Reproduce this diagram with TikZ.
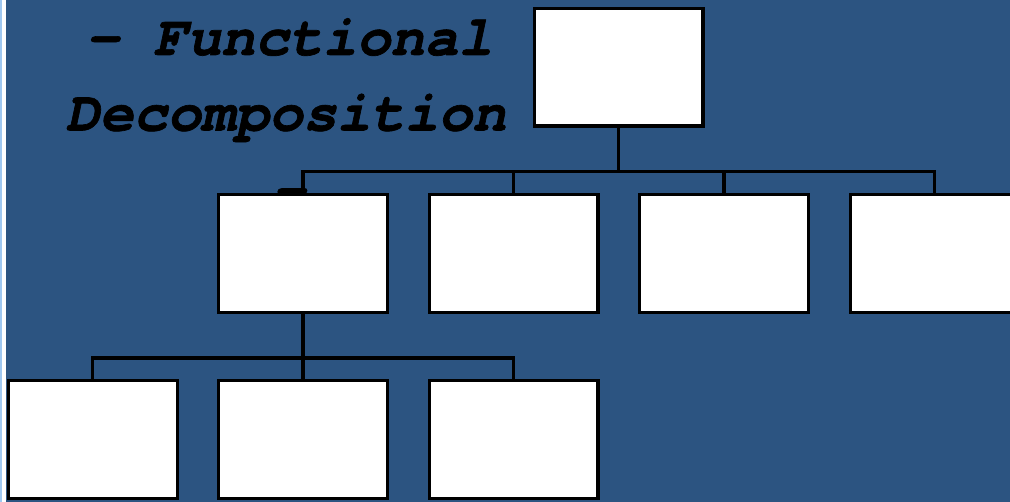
\documentclass[tikz,border=0pt]{standalone}
\usepackage{fontspec}
\newfontfamily\courfont{texgyrecursor}[Extension=.otf, UprightFont=*-regular, BoldFont=*-bold, ItalicFont=*-italic, BoldItalicFont=*-bolditalic, BoldItalicFeatures={FakeBold=1.2}]
\definecolor{bgblue}{RGB}{44,84,129}
\definecolor{edgeblue}{RGB}{160,200,240}
\tikzset{
  box/.style={draw=black, fill=white, line width=3.3pt, minimum width=168.7pt, minimum height=117.7pt, inner sep=0pt, outer sep=0pt},
  link/.style={draw=black, line width=3.3pt},
  title/.style={anchor=base, inner sep=0pt, font=\courfont\bfseries\itshape\fontsize{56.5}{76}\selectfont, text=black}
}
\begin{document}
\begin{tikzpicture}[x=1pt, y=-1pt]
\useasboundingbox (0,0) rectangle (1010,502);
\clip (0,0) rectangle (1010,502);
\fill[bgblue] (0,0) rectangle (1010,502);
\fill[white] (0,0) rectangle (6,502);
\fill[edgeblue] (0,0) rectangle (1.5,502);
% title text
\node[title] (t1) at (289,55) {- Functional};
\node[title] (t2) at (286,130.5) {Decomposition};
\node[title] (t3) at (289,207) {-};
% boxes
\node[box] (top) at (618.5,67.2) {};
\node[box] (b1) at (302.9,253.4) {};
\node[box] (b2) at (513.6,253.4) {};
\node[box] (b3) at (724.0,253.4) {};
\node[box] (b4) at (934.5,253.4) {};
\node[box] (c1) at (92.8,439.5) {};
\node[box] (c2) at (302.9,439.5) {};
\node[box] (c3) at (513.6,439.5) {};
% junctions
\coordinate (j1) at (618.5,171.7);
\coordinate (j2) at (302.9,358);
% connectors
\draw[link] (top.south) -- (j1);
\draw[link] (b1.north) |- (j1);
\draw[link] (b4.north) |- (j1);
\draw[link] (b2.north) -- (b2.north |- j1);
\draw[link] (b3.north) -- (b3.north |- j1);
\draw[link] (b1.south) -- (j2);
\draw[link] (c1.north) |- (j2);
\draw[link] (c3.north) |- (j2);
\draw[link] (c2.north) -- (j2);
\end{tikzpicture}
\end{document}
